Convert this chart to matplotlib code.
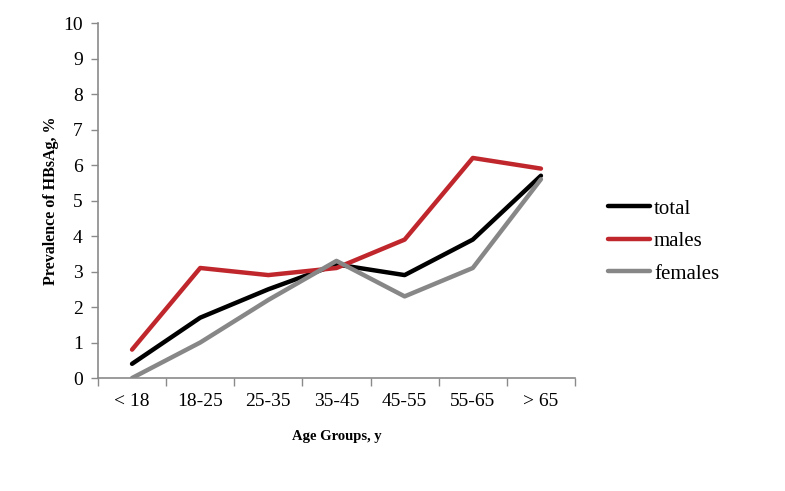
import matplotlib.pyplot as plt
import numpy as np

age_groups = ["< 18", "18-25", "25-35", "35-45", "45-55", "55-65", "> 65"]
total = [0.4, 1.7, 2.5, 3.2, 2.9, 3.9, 5.7]
males = [0.8, 3.1, 2.9, 3.1, 3.9, 6.2, 5.9]
females = [0.0, 1.0, 2.2, 3.3, 2.3, 3.1, 5.6]

plt.rcParams["font.family"] = ["Liberation Serif", "DejaVu Serif"]

fig = plt.figure(figsize=(7.85, 4.91), dpi=100)
ax = fig.add_axes([0.1248, 0.2301, 0.6077, 0.7229])

x = np.arange(len(age_groups))
ax.plot(x, total, color="black", lw=3.2, label="total", solid_capstyle="round")
ax.plot(x, males, color="#C0272D", lw=3.2, label="males", solid_capstyle="round")
ax.plot(x, females, color="#878787", lw=3.2, label="females", solid_capstyle="round")

ax.set_xlim(-0.5, len(age_groups) - 0.5)
ax.set_ylim(0, 10)
ax.set_yticks(range(0, 11))
ax.set_xticks(x)
ax.set_xticklabels(age_groups)
ax.set_xticks(np.arange(-0.5, len(age_groups)), minor=True)
ax.tick_params(axis="x", which="major", length=0, pad=11, labelsize=14)
ax.tick_params(axis="x", which="minor", length=6, color="#8a8a8a", width=1)
ax.tick_params(axis="y", length=5, color="#8a8a8a", width=1, labelsize=14, pad=6)

for side in ("top", "right"):
    ax.spines[side].set_visible(False)
for side in ("left", "bottom"):
    ax.spines[side].set_color("#8a8a8a")
    ax.spines[side].set_linewidth(1.2)

ax.set_xlabel("Age Groups, y", fontsize=10.5, fontweight="bold", labelpad=14)
ax.set_ylabel("Prevalence of HBsAg, %", fontsize=11.5, fontweight="bold", labelpad=3)

ax.legend(loc="center left", bbox_to_anchor=(1.03, 0.385), frameon=False,
          fontsize=15, handlelength=2.0, handletextpad=0.2, labelspacing=0.62)

fig.savefig("out.png", dpi=100)
